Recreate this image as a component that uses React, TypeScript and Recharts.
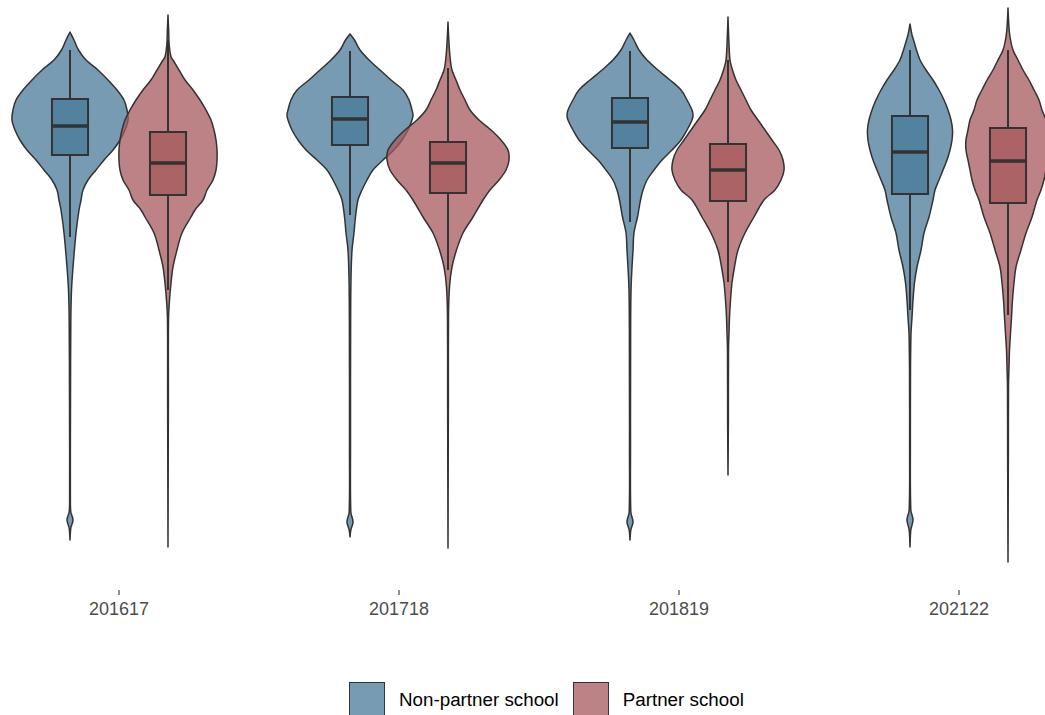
import React from "react";
import { ComposedChart, Bar, XAxis, YAxis, Legend } from "recharts";

const FONT = "'Liberation Sans', Arial, Helvetica, sans-serif";

const years = ["201617", "201718", "201819", "202122"];
const seriesNames = ["Non-partner school", "Partner school"];
const seriesColors = ["#487a98", "#a7585c"];

// Box statistics (score scale)
const nonPartnerWhiskerHigh = [108, 107.8, 107.8, 108];
const nonPartnerQ3 = [98.2, 98.6, 98.4, 94.8];
const nonPartnerMedian = [92.8, 94.2, 93.6, 87.6];
const nonPartnerQ1 = [87, 89, 88.4, 79.2];
const nonPartnerWhiskerLow = [70.6, 75, 73.6, 56];

const partnerWhiskerHigh = [110, 104.4, 106, 108];
const partnerQ3 = [91.6, 89.6, 89.2, 92.4];
const partnerMedian = [85.4, 85.4, 84, 85.8];
const partnerQ1 = [79, 79.4, 77.8, 77.4];
const partnerWhiskerLow = [60, 64, 61.6, 55];

// Violin density profiles: [score, relative density (max = 100)]
const nonPartnerViolins: number[][][] = [
  [[111.6,0],[110,6.3],[108,13.5],[106,25.4],[104,44.4],[102,60.3],[100,74.6],[98,85.7],[96,90.5],[94,92.1],[92,87.3],[90,79.4],[88,68.3],[86,54],[84,41.3],[82,28.6],[80,20.6],[78,17.5],[76,14.3],[71.4,9.5],[64.6,4.8],[60,2.4],[54,1.3],[38,0.8],[18,0.6],[15.6,1.3],[14,4.8],[12.4,1.3],[10,0]],
  [[111.2,0],[110,7.1],[108,15.9],[106,30.2],[104,47.6],[102,65.1],[100,84.1],[98,93.7],[96,98.4],[95,100],[94,98.4],[92,92.1],[90,82.5],[88,69.8],[86,52.4],[84,36.5],[82,27],[80,19],[78,12.7],[74.6,8.7],[71.4,6.3],[68,3.2],[62.6,1.6],[54,1],[28,0.8],[15.6,1.3],[13.6,4.8],[12,1.3],[10.6,0]],
  [[111.4,0],[110,6.3],[108,14.3],[106,27],[104,44.4],[102,63.5],[100,81],[98,90.5],[96,98.4],[95,100],[94,98.4],[92,90.5],[90,81],[88,66.7],[86,50.8],[84,38.1],[82,27],[80,20.6],[78,16.7],[74.6,11.9],[71.4,6.3],[68,4.8],[64.6,3.2],[60,1.6],[52,1],[28,0.8],[15.6,1.3],[13.6,4.8],[12,1.3],[10,0]],
  [[113.2,0],[111,3.2],[110,5.6],[108,10.3],[106,15.9],[104,25.4],[102,36.5],[100,46],[98,54],[96,60.3],[94,65.1],[92,67.5],[90,66.7],[88,63.5],[86,58.7],[84,52.4],[82,46],[80,39.7],[78,36.5],[74.6,30.2],[71.4,22.2],[68,17.5],[64.6,11.1],[61.4,7.1],[58,4.8],[54.6,3.2],[51.4,1.6],[48,1.1],[44.6,0.8],[28,0.6],[16,1.3],[14,4.8],[12,1.3],[8.6,0]],
];

const partnerViolins: number[][][] = [
  [[115,0],[112,1],[109,1.9],[106.6,4.8],[106,7.9],[104,17.5],[102,27],[100,39.7],[98,50.8],[96,60.3],[94,68.3],[92,73],[90,76.2],[88,77.8],[86,77.8],[84,76.2],[82,71.4],[80,61.9],[78,55.6],[76,42.9],[74.6,36.5],[71.4,22.2],[68,14.3],[64.6,7.9],[61.4,4.8],[58,2.4],[54,0.8],[38,0.6],[8.6,0]],
  [[113.6,0],[110,1.3],[106.6,3.2],[104,6.3],[102,12.7],[100,19],[98,27],[96,34.9],[94,49.2],[92,68.3],[90,84.1],[88,95.2],[86,96.8],[84,92.1],[82,81],[80,66.7],[78,55.6],[74.6,39.7],[71.4,23.8],[68,13.5],[64.6,6.3],[60.6,2.4],[54.6,0.8],[38,0.6],[8.4,0]],
  [[114.6,0],[110,1.3],[106,3.2],[104,7.1],[102,12.7],[100,20.6],[98,28.6],[96,36.5],[94,47.6],[92,58.7],[90,69.8],[88,81],[86,87.3],[84,88.9],[82,84.1],[80,74.6],[78,57.1],[74.6,41.3],[71.4,27],[68,15.9],[64.6,10.3],[61.4,6.3],[58,4],[54.6,2.4],[51.4,1.6],[48,0.8],[34,0.6],[23,0]],
  [[116.4,0],[113,1.3],[110.6,3.2],[108,7.9],[106,15.9],[104,23.8],[102,33.3],[100,41.3],[98,49.2],[96,54],[94,60.3],[92,63.5],[90,66.7],[88,66.7],[86,63.5],[84,60.3],[82,57.1],[80,52.4],[78,46],[74.6,38.1],[71.4,28.6],[68,20.6],[64.6,12.7],[61.4,9.5],[58,7.1],[54.6,5.6],[51.4,4],[48,2.4],[44.6,1.6],[40.6,0.8],[28,0.6],[5.6,0]],
];

const rangeOf = (prof: number[][]) => {
  const vs = prof.map((p) => p[0]);
  return [Math.min(...vs), Math.max(...vs)];
};

const rows = years.map((year, i) => ({
  year,
  np: rangeOf(nonPartnerViolins[i]),
  p: rangeOf(partnerViolins[i]),
  npProfile: nonPartnerViolins[i],
  pProfile: partnerViolins[i],
  npBox: { wh: nonPartnerWhiskerHigh[i], q3: nonPartnerQ3[i], med: nonPartnerMedian[i], q1: nonPartnerQ1[i], wl: nonPartnerWhiskerLow[i] },
  pBox: { wh: partnerWhiskerHigh[i], q3: partnerQ3[i], med: partnerMedian[i], q1: partnerQ1[i], wl: partnerWhiskerLow[i] },
}));

type Pt = { x: number; y: number };

function sidePath(pts: Pt[], start: boolean) {
  const n = pts.length;
  const slope = (i: number) => {
    if (i === 0) return (pts[1].x - pts[0].x) / (pts[1].y - pts[0].y || 1e-6);
    if (i === n - 1) return (pts[n - 1].x - pts[n - 2].x) / (pts[n - 1].y - pts[n - 2].y || 1e-6);
    return (pts[i + 1].x - pts[i - 1].x) / (pts[i + 1].y - pts[i - 1].y || 1e-6);
  };
  let d = start ? `M${pts[0].x},${pts[0].y}` : "";
  for (let i = 0; i < n - 1; i++) {
    const a = pts[i], b = pts[i + 1];
    const dy = b.y - a.y;
    let s1 = slope(i), s2 = slope(i + 1);
    if (i === 0) s1 = Math.max(-3, Math.min(3, s1));
    if (i + 1 === n - 1) s2 = Math.max(-3, Math.min(3, s2));
    const c1x = a.x + (s1 * dy) / 3, c1y = a.y + dy / 3;
    const c2x = b.x - (s2 * dy) / 3, c2y = b.y - dy / 3;
    d += ` C${c1x.toFixed(2)},${c1y.toFixed(2)} ${c2x.toFixed(2)},${c2y.toFixed(2)} ${b.x.toFixed(2)},${b.y.toFixed(2)}`;
  }
  return d;
}

function Violin(props: any) {
  const { x, y, width, height, payload, which } = props;
  if (x == null || !payload) return null;
  const key = which === 0 ? "np" : "p";
  const [lo, hi] = payload[key];
  const top = Math.min(y, y + height);
  const bot = Math.max(y, y + height);
  const px = (v: number) => top + ((hi - v) / (hi - lo)) * (bot - top);
  const cx = x + width / 2;
  const maxHalf = width * 0.643;
  const profile: number[][] = payload[key + "Profile"];
  const right: Pt[] = profile.map(([v, d]) => ({ x: cx + (d / 100) * maxHalf, y: px(v) }));
  const left: Pt[] = profile.map(([v, d]) => ({ x: cx - (d / 100) * maxHalf, y: px(v) })).reverse();
  const path = sidePath(right, true) + sidePath(left, false) + " Z";
  const b = payload[key + "Box"];
  const bh = width * 0.184;
  const color = seriesColors[which];
  return (
    <g>
      <path d={path} fill={color} fillOpacity={0.75} stroke="#333333" strokeWidth={1.5} strokeLinejoin="round" />
      <line x1={cx} x2={cx} y1={px(b.wh)} y2={px(b.q3)} stroke="#333333" strokeWidth={2} />
      <line x1={cx} x2={cx} y1={px(b.q1)} y2={px(b.wl)} stroke="#333333" strokeWidth={2} />
      <rect x={cx - bh} y={px(b.q3)} width={2 * bh} height={px(b.q1) - px(b.q3)} fill={color} fillOpacity={0.75} stroke="#333333" strokeWidth={2} />
      <line x1={cx - bh} x2={cx + bh} y1={px(b.med)} y2={px(b.med)} stroke="#333333" strokeWidth={3.4} />
    </g>
  );
}

const renderLegend = () => (
  <div style={{ display: "flex", alignItems: "center", fontFamily: FONT, fontSize: 18.8, color: "#000" }}>
    {seriesNames.map((n, i) => (
      <div key={n} style={{ display: "flex", alignItems: "center", marginRight: i === 0 ? 14 : 0 }}>
        <div
          style={{
            width: 36,
            height: 36,
            boxSizing: "border-box",
            background: seriesColors[i],
            border: "1.5px solid #333333",
            position: "relative",
          }}
        >
          <div style={{ position: "absolute", inset: 0, background: "rgba(255,255,255,0.25)" }} />
        </div>
        <span style={{ marginLeft: 14, whiteSpace: "nowrap" }}>{n}</span>
      </div>
    ))}
  </div>
);

export default function App() {
  return (
    <div style={{ position: "fixed", left: 0, top: 0, width: 1045, height: 715, overflow: "hidden", background: "#fff" }}>
      <div style={{ position: "absolute", left: -21, top: -10 }}>
        <ComposedChart
          width={1120}
          height={740}
          data={rows}
          margin={{ top: 0, right: 0, bottom: 0, left: 0 }}
          barCategoryGap="15%"
          barGap={0}
        >
          <XAxis
            dataKey="year"
            axisLine={false}
            tickLine={{ stroke: "#333333", strokeWidth: 1.1 }}
            tickSize={5}
            tickMargin={7}
            interval={0}
            height={140}
            tick={{ fill: "#4d4d4d", fontSize: 18, fontFamily: FONT }}
          />
          <YAxis hide type="number" domain={[0, 120]} />
          <Bar
            dataKey="np"
            name={seriesNames[0]}
            fill={seriesColors[0]}
            isAnimationActive={false}
            shape={(p: any) => <Violin {...p} which={0} />}
          />
          <Bar
            dataKey="p"
            name={seriesNames[1]}
            fill={seriesColors[1]}
            isAnimationActive={false}
            shape={(p: any) => <Violin {...p} which={1} />}
          />
          <Legend
            layout="vertical"
            align="center"
            verticalAlign="middle"
            content={renderLegend}
            wrapperStyle={{ position: "absolute", left: 370, top: 692, right: "auto", bottom: "auto", width: "auto", height: "auto" }}
          />
        </ComposedChart>
      </div>
    </div>
  );
}
